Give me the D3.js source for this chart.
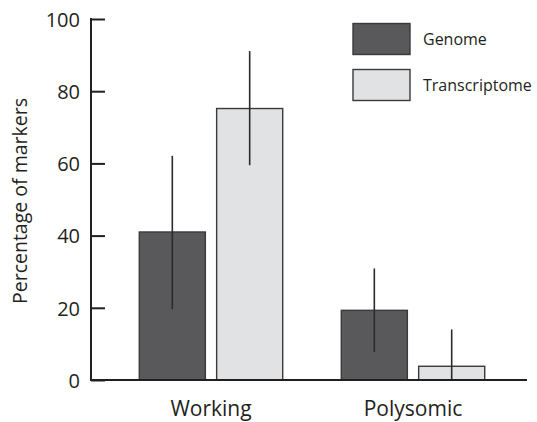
<!DOCTYPE html>
<html><head><meta charset="utf-8">
<script src="https://cdn.jsdelivr.net/npm/d3@7/dist/d3.min.js"></script>
<style>body{margin:0;background:#fff}svg{display:block}text{font-family:"Open Sans",sans-serif;fill:#231f20}</style>
</head><body><svg id="c" width="537" height="422"></svg>
<script>
const categories = ["Working", "Polysomic"];
const seriesNames = ["Genome", "Transcriptome"];
const genome = [41, 19.3];
const genomeLow = [19.6, 7.8];
const genomeHigh = [62.1, 30.9];
const transcriptome = [75.2, 3.8];
const transcriptomeLow = [59.5, 0];
const transcriptomeHigh = [91.1, 14.0];
const yTicks = [0, 20, 40, 60, 80, 100];
const colors = {"Genome": "#59595b", "Transcriptome": "#e1e2e4"};

const svg = d3.select("#c");
const y = d3.scaleLinear().domain([0, 100]).range([380, 19]);
const x0 = d3.scaleBand().domain(categories).range([91, 533]).paddingInner(0.29).paddingOuter(0.239);
const x1 = d3.scaleBand().domain(seriesNames).range([0, x0.bandwidth()]).paddingInner(0.146).paddingOuter(0);

const data = [];
categories.forEach((c, i) => {
  data.push({cat: c, s: "Genome", v: genome[i], lo: genomeLow[i], hi: genomeHigh[i]});
  data.push({cat: c, s: "Transcriptome", v: transcriptome[i], lo: transcriptomeLow[i], hi: transcriptomeHigh[i]});
});

svg.selectAll("rect.bar").data(data).join("rect").attr("class", "bar")
  .attr("x", d => x0(d.cat) + x1(d.s))
  .attr("y", d => y(d.v))
  .attr("width", x1.bandwidth())
  .attr("height", d => y(0) - y(d.v))
  .attr("fill", d => colors[d.s])
  .attr("stroke", "#3a3a3c").attr("stroke-width", 1.4);

svg.selectAll("line.err").data(data).join("line").attr("class", "err")
  .attr("x1", d => x0(d.cat) + x1(d.s) + x1.bandwidth() / 2)
  .attr("x2", d => x0(d.cat) + x1(d.s) + x1.bandwidth() / 2)
  .attr("y1", d => y(d.lo)).attr("y2", d => y(d.hi))
  .attr("stroke", "#2b2b2d").attr("stroke-width", 1.6);

// y axis
const yAxis = d3.axisRight(y).tickValues(yTicks).tickSize(14).tickFormat(d3.format("d"));
const gy = svg.append("g").attr("transform", "translate(91,0)").call(yAxis);
gy.select(".domain").remove();
gy.selectAll(".tick line").attr("stroke", "#231f20").attr("stroke-width", 2);
gy.selectAll(".tick text").attr("x", -11).attr("text-anchor", "end").attr("dy", "0.36em")
  .style("font-size", "20px").attr("fill", "#231f20");
svg.append("line").attr("x1", 91).attr("x2", 91).attr("y1", y(100) - 1).attr("y2", y(0) + 1)
  .attr("stroke", "#231f20").attr("stroke-width", 2);

// x axis
svg.append("line").attr("x1", 90).attr("x2", 527).attr("y1", y(0)).attr("y2", y(0))
  .attr("stroke", "#231f20").attr("stroke-width", 2);
const xAxis = d3.axisBottom(x0).tickSize(0);
const gx = svg.append("g").attr("transform", "translate(0,380)").call(xAxis);
gx.select(".domain").remove();
gx.selectAll(".tick text").attr("y", 0).attr("dy", "36px").style("font-size", "21px").attr("fill", "#231f20");

// y title
svg.append("text").attr("transform", "translate(27,201) rotate(-90)").attr("text-anchor", "middle")
  .style("font-size", "19.5px").text("Percentage of markers");

// legend
const lg = svg.append("g");
seriesNames.forEach((s, i) => {
  lg.append("rect").attr("x", 353).attr("y", 23.5 + i * 46).attr("width", 57).attr("height", 31)
    .attr("fill", colors[s]).attr("stroke", "#3a3a3c").attr("stroke-width", 1.4);
  lg.append("text").attr("x", 423).attr("y", 44.5 + i * 46).style("font-size", "16px").text(s);
});
</script></body></html>
